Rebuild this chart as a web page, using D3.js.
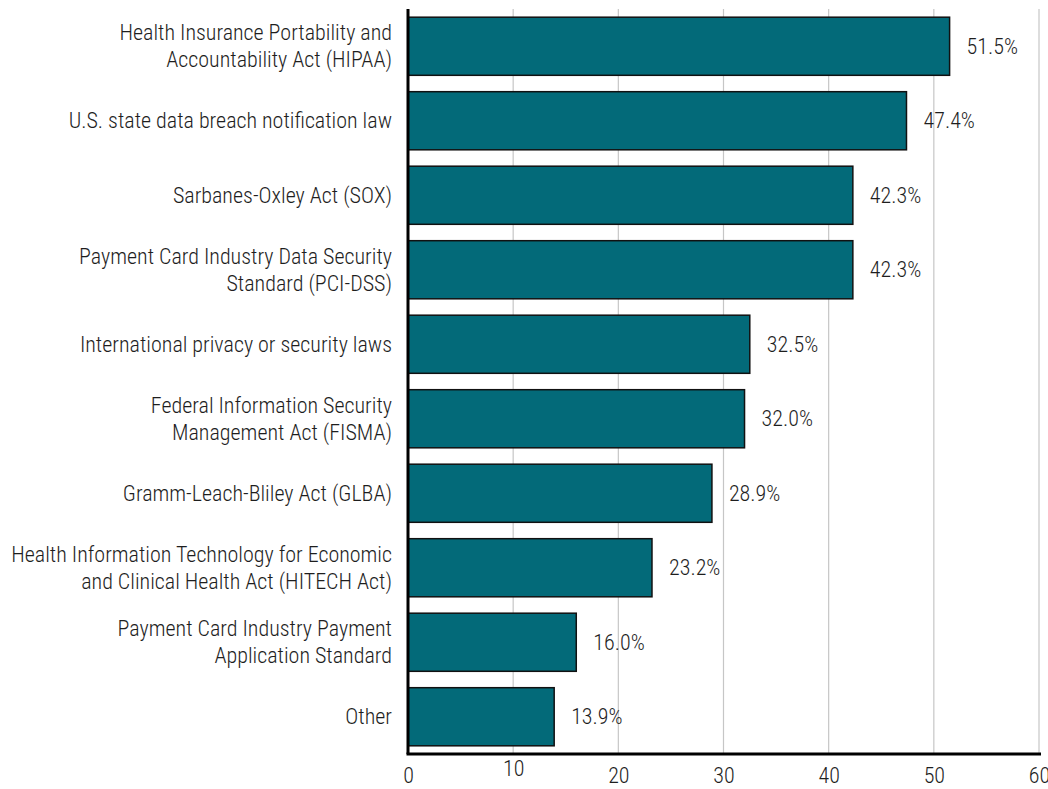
<!DOCTYPE html>
<html>
<head>
<meta charset="utf-8">
<script src="https://cdn.jsdelivr.net/npm/d3@7"></script>
<style>
  body { margin: 0; background: #fff; }
  svg text { font-family: "Liberation Sans Narrow", "Roboto Condensed", "Arial Narrow", Roboto, sans-serif; font-weight: 300; fill: #1e1e1e; }
</style>
</head>
<body>
<svg id="chart" width="1048" height="789"></svg>
<script>
// compliance regulations, share of respondents (%)
const categories = [
  ["Health Insurance Portability and", "Accountability Act (HIPAA)"],
  ["U.S. state data breach notification law"],
  ["Sarbanes-Oxley Act (SOX)"],
  ["Payment Card Industry Data Security", "Standard (PCI-DSS)"],
  ["International privacy or security laws"],
  ["Federal Information Security", "Management Act (FISMA)"],
  ["Gramm-Leach-Bliley Act (GLBA)"],
  ["Health Information Technology for Economic", "and Clinical Health Act (HITECH Act)"],
  ["Payment Card Industry Payment", "Application Standard"],
  ["Other"]
];
const values = [51.5, 47.4, 42.3, 42.3, 32.5, 32.0, 28.9, 23.2, 16.0, 13.9];
const xTicks = [0, 10, 20, 30, 40, 50, 60];

let svg = d3.select("#chart");
let mLeft = 408, mRight = 1039, mTop = 9, mBottom = 754;

let x = d3.scaleLinear().domain([0, 60]).range([mLeft, mRight]);
let y = d3.scaleBand()
  .domain(d3.range(values.length))
  .range([mTop, mBottom])
  .paddingInner(0.22)
  .paddingOuter(0.11);

// grid
svg.append("g").selectAll("line").data(xTicks.slice(1)).enter().append("line")
  .attr("x1", d => x(d)).attr("x2", d => x(d))
  .attr("y1", mTop).attr("y2", mBottom)
  .attr("stroke", "#c6c6c6").attr("stroke-width", 1.2);

// bars
svg.append("g").selectAll("rect").data(values).enter().append("rect")
  .attr("x", x(0))
  .attr("y", (d, i) => y(i))
  .attr("width", d => x(d) - x(0))
  .attr("height", y.bandwidth())
  .attr("fill", "#036a79")
  .attr("stroke", "#111")
  .attr("stroke-width", 1.5);

// value labels
svg.append("g").selectAll("text").data(values).enter().append("text")
  .attr("x", d => x(d) + 17)
  .attr("y", (d, i) => y(i) + y.bandwidth() / 2)
  .attr("dy", "0.35em")
  .style("font-size", "22px")
  .text(d => d.toFixed(1) + "%");

// category labels
let cat = svg.append("g").selectAll("text").data(categories).enter().append("text")
  .attr("text-anchor", "end")
  .style("font-size", "22px")
  .attr("transform", (d, i) => `translate(392,${y(i) + y.bandwidth() / 2})`);
cat.selectAll("tspan").data(d => d.map((t, j) => ({t, j, n: d.length}))).enter().append("tspan")
  .attr("x", 0)
  .attr("y", d => (d.j - (d.n - 1) / 2) * 27)
  .attr("dy", "0.35em")
  .text(d => d.t);

// x axis
let xAxis = d3.axisBottom(x).tickValues(xTicks).tickSize(0).tickPadding(13);
let gx = svg.append("g").attr("transform", `translate(0,${mBottom})`).call(xAxis);
gx.select(".domain").remove();
gx.selectAll("text")
  .style("font-size", "22px")
  .attr("font-family", null)
  .attr("transform", d => d == 10 ? "translate(0,-7)" : null);

// axis lines
svg.append("line").attr("x1", mLeft).attr("x2", mLeft)
  .attr("y1", mTop).attr("y2", mBottom)
  .attr("stroke", "#000").attr("stroke-width", 3);
svg.append("line").attr("x1", mLeft - 1.5).attr("x2", mRight + 2)
  .attr("y1", mBottom).attr("y2", mBottom)
  .attr("stroke", "#000").attr("stroke-width", 3);
</script>
</body>
</html>
